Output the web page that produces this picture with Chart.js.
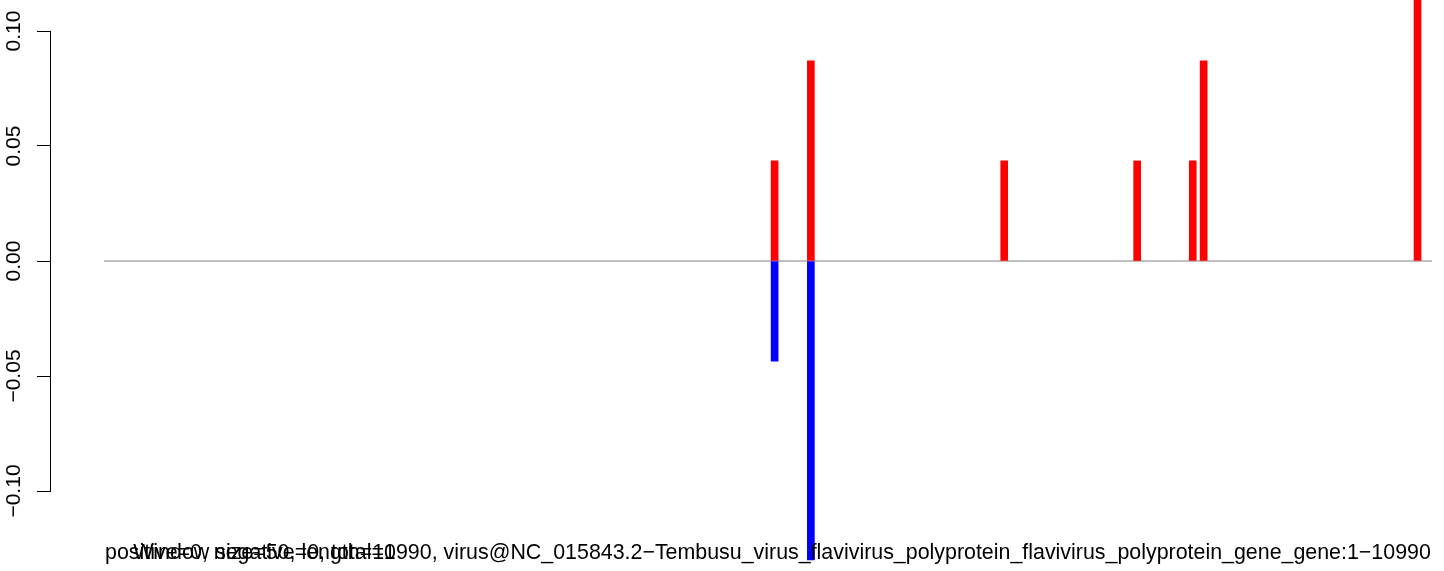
<!DOCTYPE html>
<html>
<head>
<meta charset="utf-8">
<script src="https://cdn.jsdelivr.net/npm/chart.js@4/dist/chart.umd.min.js"></script>
<style>
  html, body { margin: 0; padding: 0; background: #ffffff; }
  #wrap { width: 1444px; height: 571px; position: relative; }
</style>
</head>
<body>
<div id="wrap"><canvas id="windowChart"></canvas></div>
<script>
/* DATA */
const seqLength = 10990;
const redPositions = [5550, 5850, 7450, 8550, 9010, 9100, 10870];
const redValues = [0.0435, 0.087, 0.0435, 0.0435, 0.0435, 0.087, 0.13];
const bluePositions = [5550, 5850];
const blueValues = [-0.0435, -0.13];
const yTickValues = [-0.10, -0.05, 0.00, 0.05, 0.10];
const statsLabel = "positive=0, negative=0, total=1";
const mainLabel = "Window size=50, length=10990, virus@NC_015843.2\u2212Tembusu_virus_flavivirus_polyprotein_flavivirus_polyprotein_gene_gene:1\u221210990";

const FONT = "'Liberation Sans', Arial, sans-serif";

const toPoints = (xs, ys) => xs.map((x, i) => ({ x: x, y: ys[i] }));

/* bottom texts, drawn over each other like the original */
const bottomText = {
  id: "bottomText",
  afterDraw(chart) {
    const ctx = chart.ctx;
    ctx.save();
    ctx.fillStyle = "#000000";
    ctx.font = "21.4px " + FONT;
    ctx.textBaseline = "alphabetic";
    ctx.textAlign = "left";
    ctx.fillText(statsLabel, 105, 559);
    ctx.textAlign = "center";
    ctx.fillText(mainLabel, 782, 559);
    ctx.restore();
  }
};

const whiteBg = {
  id: "whiteBg",
  beforeDraw(chart) {
    const ctx = chart.ctx;
    ctx.save();
    ctx.fillStyle = "#ffffff";
    ctx.fillRect(0, 0, chart.width, chart.height);
    ctx.restore();
  }
};

new Chart(
  document.getElementById("windowChart"),
  {
    type: "bar",
    data: {
      datasets: [
        {
          type: "line",
          data: toPoints([1, seqLength], [0, 0]),
          borderColor: "#808080",
          borderWidth: 1,
          pointRadius: 0,
          order: 3,
          clip: false
        },
        {
          data: toPoints(redPositions, redValues),
          backgroundColor: "#ff0000",
          barThickness: 7,
          grouped: false,
          order: 1,
          clip: false
        },
        {
          data: toPoints(bluePositions, blueValues),
          backgroundColor: "#0000ff",
          barThickness: 7,
          grouped: false,
          order: 2,
          clip: false
        }
      ]
    },
    options: {
      responsive: true,
      maintainAspectRatio: false,
      devicePixelRatio: 1,
      animation: false,
      layout: {
        padding: { top: 31, bottom: 80, left: 0, right: 0 }
      },
      plugins: {
        legend: { display: false },
        tooltip: { enabled: false }
      },
      scales: {
        x: {
          type: "linear",
          min: -446,
          max: 11089,
          offset: false,
          display: false
        },
        y: {
          type: "linear",
          min: -0.1,
          max: 0.1,
          afterBuildTicks(scale) {
            scale.ticks = yTickValues.map(v => ({ value: v }));
          },
          afterFit(scale) {
            scale.width = 50;
          },
          border: {
            display: true,
            color: "#000000",
            width: 1
          },
          grid: {
            drawOnChartArea: false,
            drawTicks: true,
            tickLength: 13,
            tickColor: "#000000",
            tickWidth: 1
          },
          ticks: {
            autoSkip: false,
            minRotation: 90,
            maxRotation: 90,
            crossAlign: "center",
            padding: -4,
            color: "#000000",
            font: { family: FONT, size: 21 },
            callback: v => v.toFixed(2).replace("-", "\u2212")
          }
        }
      }
    },
    plugins: [whiteBg, bottomText]
  }
);
</script>
</body>
</html>
